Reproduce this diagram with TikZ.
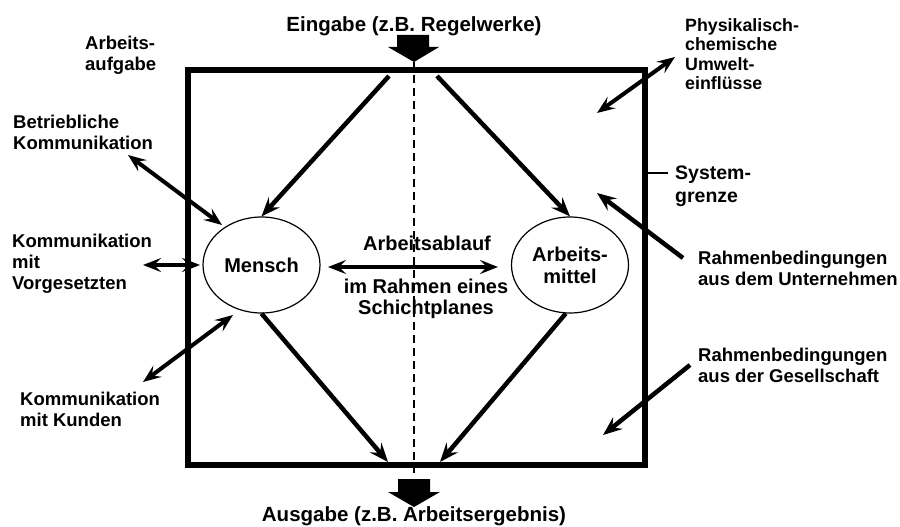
\documentclass[tikz,border=0pt]{standalone}
\usepackage{fontspec}
\setmainfont{Liberation Sans}
\usetikzlibrary{arrows.meta,shapes.geometric}
\tikzset{
  sysbox/.style={draw, line width=5.5pt, inner sep=0pt},
  mainarr/.style={line width=4.5pt, -{Stealth[length=19pt,width=15pt,inset=7pt]}},
  dblarr/.style={line width=4pt, {Stealth[length=18pt,width=14pt,inset=7pt]}-{Stealth[length=18pt,width=14pt,inset=7pt]}},
  inarr/.style={line width=4.5pt, -{Stealth[length=19pt,width=15pt,inset=7pt]}},
  oval/.style={ellipse, draw, line width=1.2pt, inner sep=0pt, minimum width=117pt, minimum height=96pt, align=center, font=\bfseries\fontsize{20}{22}\selectfont},
  lbl/.style={inner sep=0pt, align=left, anchor=west, font=\bfseries\fontsize{18.5}{21}\selectfont},
  biglbl/.style={inner sep=0pt, align=center, font=\bfseries\fontsize{20.5}{22}\selectfont},
  ctr/.style={inner sep=0pt, align=center, font=\bfseries\fontsize{20}{21.5}\selectfont},
  blockarr/.style={fill=black},
}
\begin{document}
\begin{tikzpicture}[x=1pt,y=-1pt]
\useasboundingbox (0,0) rectangle (900,527);
% system boundary
\node[sysbox, minimum width=457pt, minimum height=395pt] (sys) at (416.5,267.5) {};
% block arrows
\fill[blockarr] (397,35) -- (429,35) -- (429,47) -- (439,47) -- (414,62) -- (388,47) -- (397,47) -- cycle;
\fill[blockarr] (398,479) -- (430,479) -- (430,492) -- (440,492) -- (414,507) -- (388,492) -- (398,492) -- cycle;
% dashed middle line
\coordinate (dtop) at (414,62);
\coordinate (dbot) at (414,473);
\draw[line width=2.2pt, dash pattern=on 8pt off 5pt] (dtop) -- (dbot);
% ellipses
\node[oval] (mensch) at (261.5,265) {Mensch};
\node[oval] (mittel) at (570,265) {Arbeits-\\mittel};
% top and bottom labels
\node[biglbl, anchor=base] (ein) at (414,31.5) {Eingabe (z.B. Regelwerke)};
\node[biglbl, anchor=base] (aus) at (414,521) {Ausgabe (z.B. Arbeitsergebnis)};
% side labels
\node[lbl] (aufg) at (85,55) {Arbeits-\\aufgabe};
\node[lbl] (betr) at (13,132) {Betriebliche\\Kommunikation};
\node[lbl] (vorg) at (12,264) {Kommunikation\\mit\\Vorgesetzten};
\node[lbl] (kund) at (20,409) {Kommunikation\\mit Kunden};
\node[lbl, font=\bfseries\fontsize{17.8}{19.5}\selectfont] (phys) at (685,54) {Physikalisch-\\chemische\\Umwelt-\\einflüsse};
\node[lbl, font=\bfseries\fontsize{19.5}{23}\selectfont] (sysg) at (675,186) {System-\\grenze};
\node[lbl, font=\bfseries\fontsize{18.5}{21}\selectfont] (unt) at (698,268) {Rahmenbedingungen\\aus dem Unternehmen};
\node[lbl, font=\bfseries\fontsize{18.5}{21}\selectfont] (ges) at (698,365) {Rahmenbedingungen\\aus der Gesellschaft};
% centre labels
\node[ctr] (ablauf) at (427,243) {Arbeitsablauf};
\node[ctr] (rahmen) at (426,299) {im Rahmen eines\\Schichtplanes};
% coordinates
\coordinate (tl) at (389,76);
\coordinate (tr) at (437,76);
\coordinate (bl) at (388,462);
\coordinate (br) at (440,462);
\coordinate (b1) at (128,155);
\coordinate (b2) at (222,225);
\coordinate (v1) at (143,265);
\coordinate (v2) at (200,265);
\coordinate (k1) at (143,382);
\coordinate (k2) at (233,315);
\coordinate (p1) at (675,57);
\coordinate (p2) at (597,113);
\coordinate (u1) at (683,258);
\coordinate (u2) at (597,193);
\coordinate (g1) at (690,365);
\coordinate (g2) at (603,435);
\coordinate (a1) at (328,267);
\coordinate (a2) at (498,267);
\coordinate (s1) at (645,173);
\coordinate (s2) at (668,173);
% main flow arrows
\draw[mainarr] (tl) -- (mensch.north);
\draw[mainarr] (tr) -- (mittel.north);
\draw[mainarr] (mensch.south) -- (bl);
\draw[mainarr] (mittel.-95) -- (br);
% communication arrows
\draw[dblarr] (b1) -- (b2);
\draw[dblarr] (v1) -- (v2);
\draw[dblarr] (k1) -- (k2);
\draw[dblarr] (p1) -- (p2);
\draw[dblarr] (a1) -- (a2);
% influences
\draw[inarr] (u1) -- (u2);
\draw[inarr] (g1) -- (g2);
% system boundary tick
\draw[line width=2.6pt] (s1) -- (s2);
\end{tikzpicture}
\end{document}
